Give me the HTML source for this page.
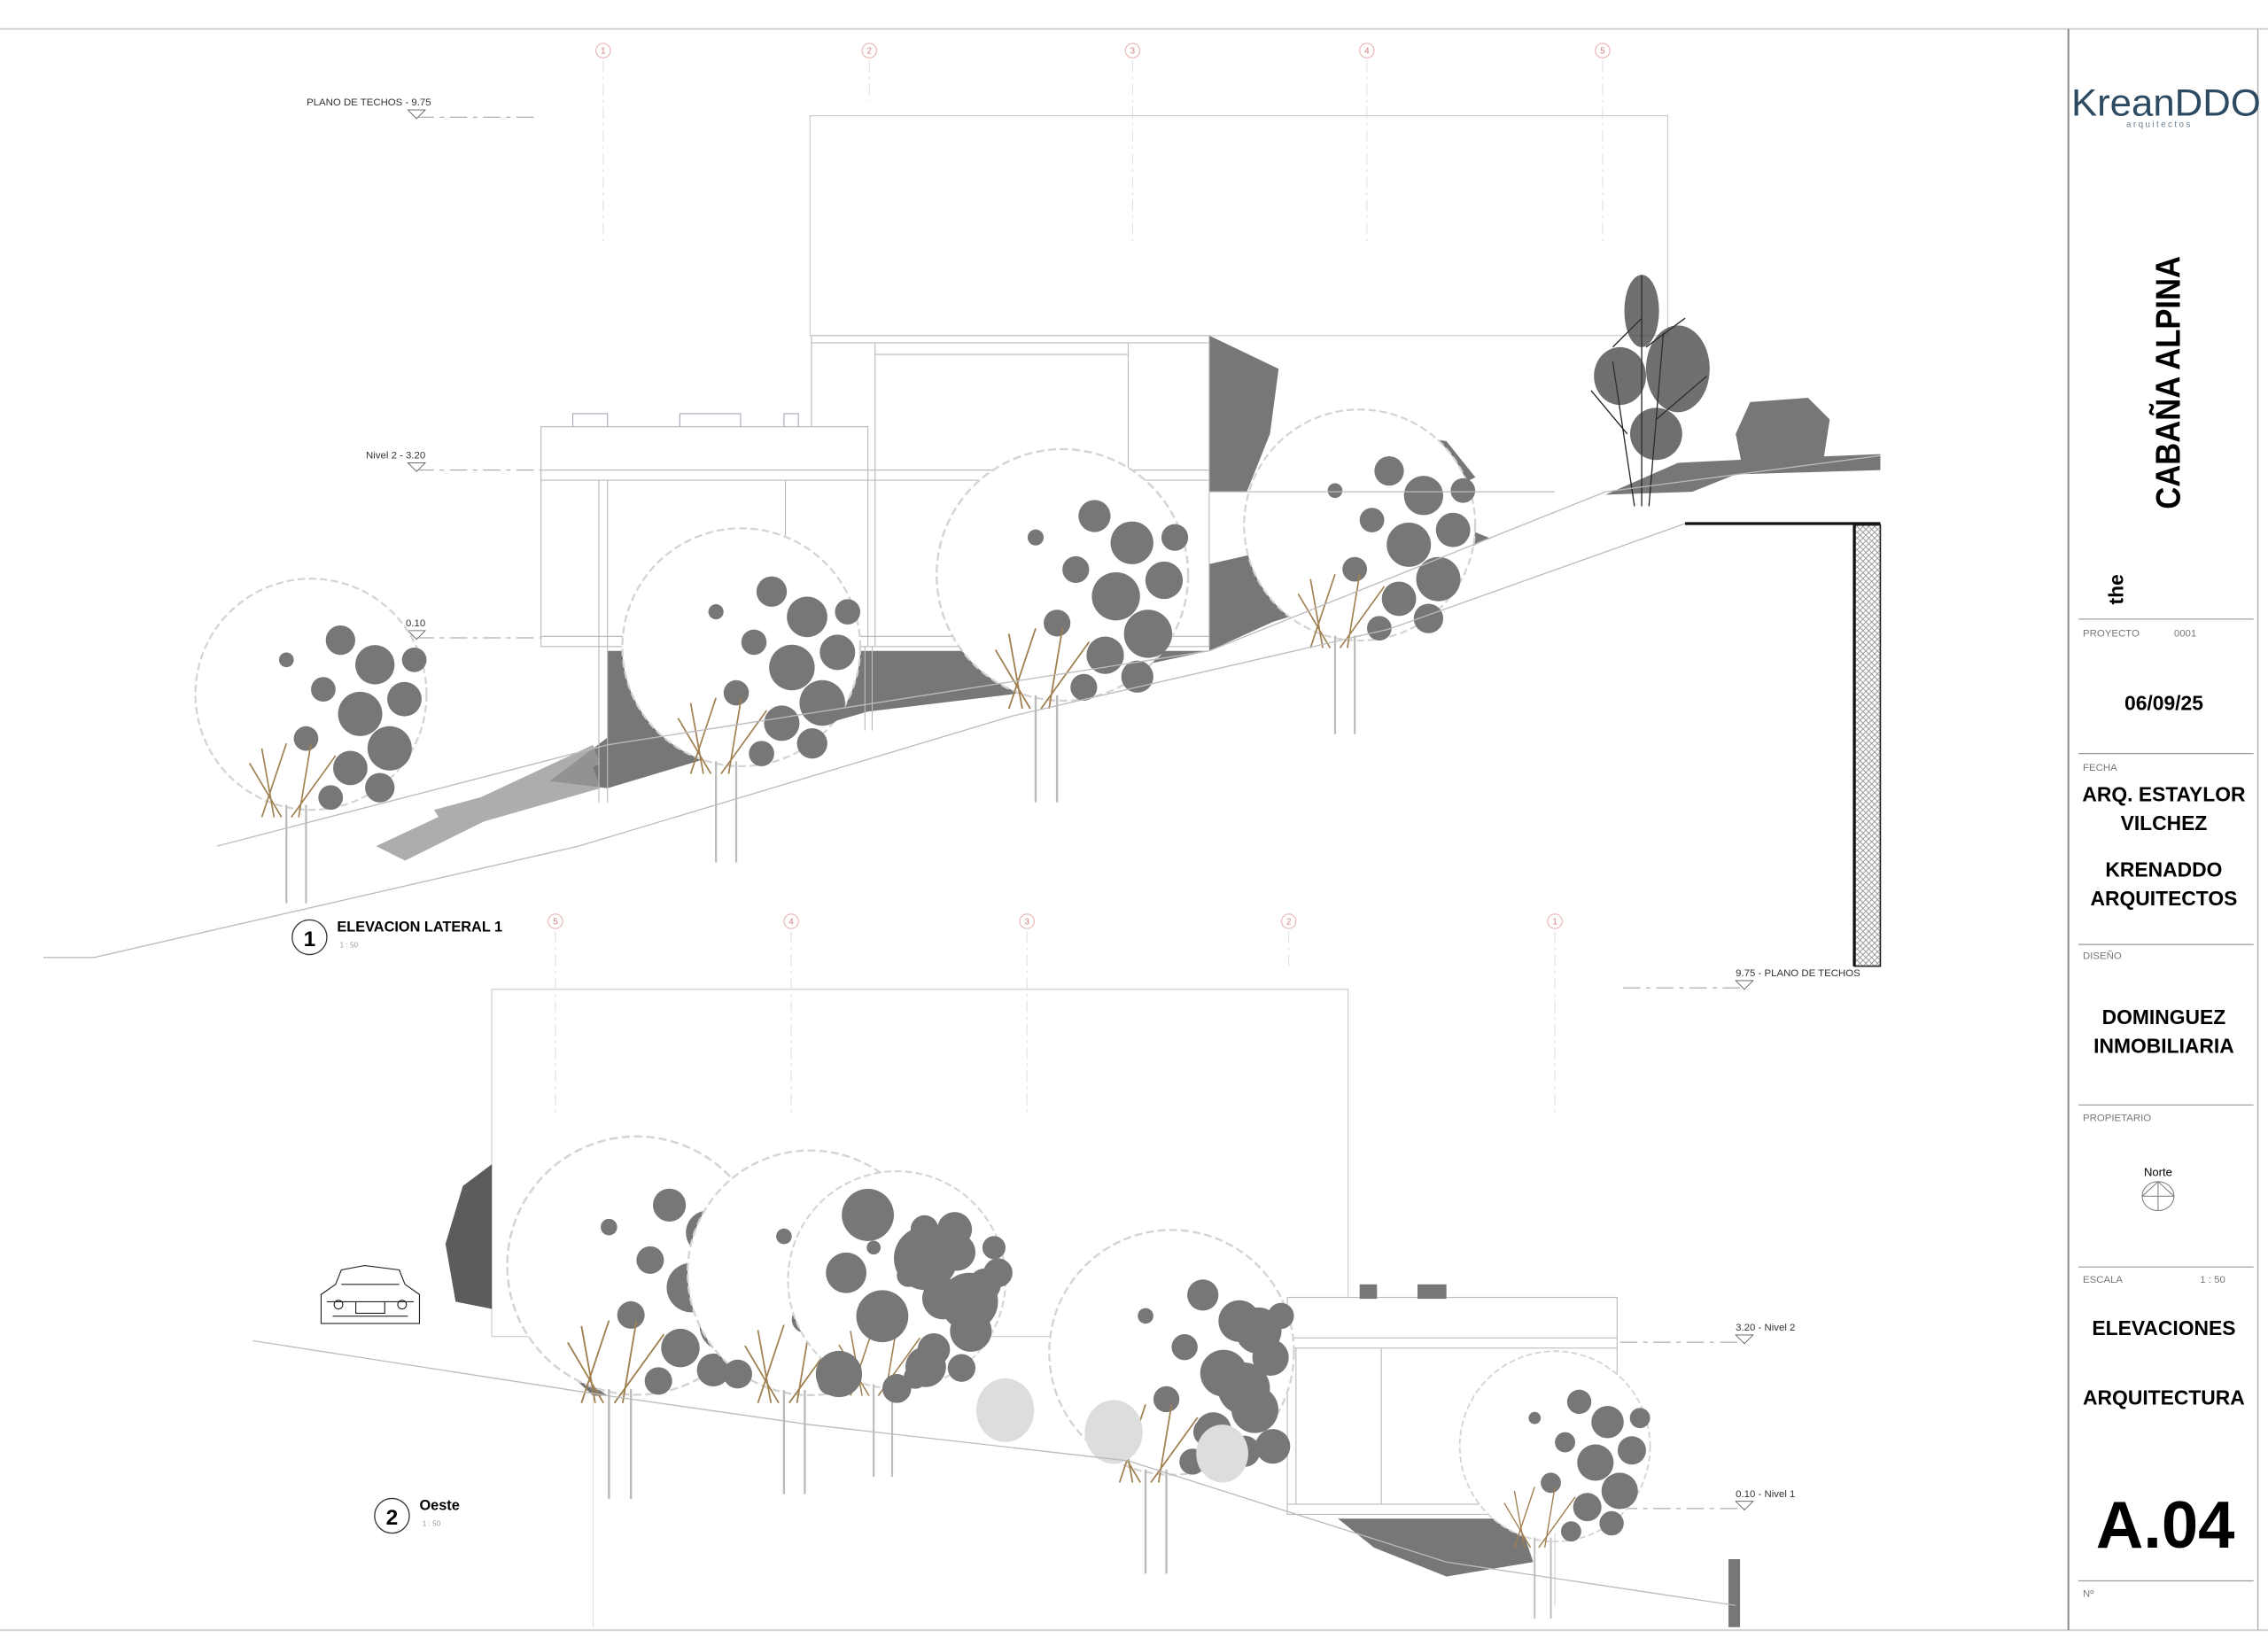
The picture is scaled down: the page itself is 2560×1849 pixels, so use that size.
<!DOCTYPE html>
<html><head><meta charset="utf-8"><style>
html,body{margin:0;padding:0;background:#fff;}
svg{display:block;}
text{font-family:"Liberation Sans",sans-serif;}
</style></head><body>
<svg width="2560" height="1849" viewBox="0 0 1568 1132.5" xmlns="http://www.w3.org/2000/svg">
<defs>
<g id="tr">
  <circle cx="50" cy="50" r="47" fill="#fff" stroke="#d4d4d4" stroke-width="0.8" stroke-dasharray="3 1.5"/>
  <g fill="#777">
    <circle cx="62" cy="28" r="6"/><circle cx="76" cy="38" r="8"/><circle cx="88" cy="52" r="7"/>
    <circle cx="70" cy="58" r="9"/><circle cx="55" cy="48" r="5"/><circle cx="82" cy="72" r="9"/>
    <circle cx="66" cy="80" r="7"/><circle cx="48" cy="68" r="5"/><circle cx="92" cy="36" r="5"/>
    <circle cx="58" cy="92" r="5"/><circle cx="78" cy="88" r="6"/><circle cx="40" cy="36" r="3"/>
  </g>
  <g stroke="#a08050" stroke-width="0.6"><path d="M30 100 L40 70 M35 100 L30 72 M45 100 L50 70 M42 100 L60 75 M38 100 L25 78"/></g>
  <path d="M40 95 V135 M48 95 V135" stroke="#bbb" stroke-width="0.8"/>
</g>
<pattern id="hat" width="4" height="4" patternUnits="userSpaceOnUse"><path d="M0 4 L4 0 M0 0 L4 4" stroke="#888" stroke-width="0.5"/></pattern>
</defs>

<line x1="0" y1="20" x2="1568" y2="20" stroke="#ccc" stroke-width="1"/>
<line x1="0" y1="1127" x2="1568" y2="1127" stroke="#ccc" stroke-width="1"/>
<line x1="1430" y1="20" x2="1430" y2="1127" stroke="#888" stroke-width="1.2"/>
<line x1="1561" y1="20" x2="1561" y2="1127" stroke="#aaa" stroke-width="0.8"/>

<text x="1432" y="80" font-size="26" fill="#2d4a63" textLength="131" lengthAdjust="spacingAndGlyphs">KreanDDO</text>
<text x="1470" y="88" font-size="6" fill="#6b7f90" letter-spacing="1.5">arquitectos</text>
<text font-weight="bold" transform="translate(1507,352) rotate(-90)" font-size="24" textLength="175" lengthAdjust="spacingAndGlyphs">CABAÑA ALPINA</text>
<text font-weight="bold" transform="translate(1468,418) rotate(-90)" font-size="14">the</text>
<g stroke="#999" stroke-width="0.7">
<line x1="1437" y1="428" x2="1558" y2="428"/><line x1="1437" y1="521" x2="1558" y2="521"/>
<line x1="1437" y1="653" x2="1558" y2="653"/><line x1="1437" y1="764" x2="1558" y2="764"/>
<line x1="1437" y1="876" x2="1558" y2="876"/><line x1="1437" y1="1093" x2="1558" y2="1093"/>
</g>
<g font-size="7" fill="#777">
<text x="1440" y="440">PROYECTO</text><text x="1503" y="440">0001</text>
<text x="1440" y="533">FECHA</text><text x="1440" y="663">DISEÑO</text>
<text x="1440" y="775">PROPIETARIO</text><text x="1440" y="887">ESCALA</text><text x="1521" y="887">1 : 50</text>
<text x="1440" y="1104">Nº</text>
</g>
<g font-size="14" text-anchor="middle" font-weight="bold">
<text x="1496" y="491">06/09/25</text>
<text x="1496" y="554">ARQ. ESTAYLOR</text>
<text x="1496" y="574">VILCHEZ</text>
<text x="1496" y="606">KRENADDO</text>
<text x="1496" y="626">ARQUITECTOS</text>
<text x="1496" y="708">DOMINGUEZ</text>
<text x="1496" y="728">INMOBILIARIA</text>
<text x="1496" y="923">ELEVACIONES</text>
<text x="1496" y="971">ARQUITECTURA</text>
<text x="1497" y="1070" font-size="46" textLength="96" lengthAdjust="spacingAndGlyphs">A.04</text>
</g>
<text x="1492" y="813" font-size="8" text-anchor="middle">Norte</text>
<ellipse cx="1492" cy="827" rx="11" ry="10" fill="none" stroke="#777" stroke-width="0.6"/>
<path d="M1481 827 H1503 M1492 817 V837 M1481 827 L1492 817 L1503 827" fill="none" stroke="#777" stroke-width="0.6"/>

<!-- ELEVATION 1 -->
<g fill="none" stroke="#e8b4b4" stroke-width="0.7">
<circle cx="417" cy="35" r="5"/><circle cx="601" cy="35" r="5"/><circle cx="783" cy="35" r="5"/><circle cx="945" cy="35" r="5"/><circle cx="1108" cy="35" r="5"/>
</g>
<g font-size="6" fill="#d08080" text-anchor="middle">
<text x="417" y="37">1</text><text x="601" y="37">2</text><text x="783" y="37">3</text><text x="945" y="37">4</text><text x="1108" y="37">5</text>
</g>
<g stroke="#ddd" stroke-width="0.6" stroke-dasharray="8 3 2 3">
<line x1="417" y1="42" x2="417" y2="170"/><line x1="601" y1="42" x2="601" y2="70"/><line x1="783" y1="42" x2="783" y2="170"/><line x1="945" y1="42" x2="945" y2="170"/><line x1="1108" y1="42" x2="1108" y2="170"/>
</g>
<rect x="560" y="80" width="593" height="152" fill="none" stroke="#ccc" stroke-width="0.7"/>
<g font-size="7" fill="#333">
<text x="212" y="73">PLANO DE TECHOS - 9.75</text>
<text x="253" y="317">Nivel 2 - 3.20</text>
<text x="253" y="433">Nivel 1 - 0.10</text>
</g>
<g fill="none" stroke="#555" stroke-width="0.5">
<path d="M282 76 L294 76 L288 82 Z"/><path d="M282 320 L294 320 L288 326 Z"/><path d="M282 436 L294 436 L288 442 Z"/>
</g>
<g stroke="#999" stroke-width="0.6" stroke-dasharray="12 4 3 4">
<line x1="288" y1="81" x2="372" y2="81"/><line x1="288" y1="325" x2="374" y2="325"/><line x1="288" y1="441" x2="374" y2="441"/>
</g>
<g fill="#777">
<polygon points="836,232 884,255 878,300 862,340 836,340"/>
<polygon points="836,390 880,380 1000,360 1030,372 960,405 880,430 836,450"/>
<polygon points="420,450 836,450 780,462 700,480 600,492 520,515 420,545 380,540 420,510"/>
<polygon points="880,360 940,330 1000,340 1020,330 1000,305 970,300 950,315 920,320"/>
<polygon points="1110,342 1160,320 1200,318 1300,314 1300,325 1200,328 1170,340"/>
<polygon points="1210,278 1250,275 1265,290 1260,322 1205,325 1200,300"/>
</g>
<g fill="#999" opacity="0.8">
<polygon points="260,585 410,515 415,528 280,595"/>
<polygon points="300,560 410,530 415,545 310,575"/>
</g>
<g fill="#fff" stroke="#bbb" stroke-width="0.7">
<rect x="561" y="232" width="275" height="215"/>
<rect x="374" y="295" width="226" height="152"/>
<line x1="561" y1="237" x2="836" y2="237"/><line x1="605" y1="237" x2="605" y2="447"/><line x1="605" y1="245" x2="780" y2="245"/>
<line x1="780" y1="237" x2="780" y2="447"/><line x1="374" y1="325" x2="836" y2="325"/><line x1="374" y1="332" x2="836" y2="332"/>
<line x1="414" y1="332" x2="414" y2="555"/><line x1="420" y1="332" x2="420" y2="555"/><line x1="543" y1="332" x2="543" y2="447"/>
<line x1="374" y1="440" x2="836" y2="440"/><line x1="598" y1="447" x2="598" y2="505"/><line x1="603" y1="447" x2="603" y2="505"/>
</g>
<path d="M396 295 V286 H420 V295 M470 295 V286 H512 V295 M542 295 V286 H552 V295" fill="none" stroke="#aab" stroke-width="0.7"/>
<use href="#tr" transform="translate(130,395) scale(1.7)"/>
<use href="#tr" transform="translate(425,360) scale(1.75)"/>
<use href="#tr" transform="translate(642,305) scale(1.85)"/>
<use href="#tr" transform="translate(855,278) scale(1.7)"/>
<g stroke="#222" stroke-width="0.8" fill="none">
<path d="M1135 350 V190 M1140 350 L1150 230 M1130 350 L1115 250 M1125 300 L1100 270 M1145 290 L1180 260 M1135 220 L1115 240 M1138 240 L1165 220"/>
</g>
<g fill="#333" opacity="0.7">
<ellipse cx="1135" cy="215" rx="12" ry="25"/><ellipse cx="1120" cy="260" rx="18" ry="20"/><ellipse cx="1160" cy="255" rx="22" ry="30"/><ellipse cx="1145" cy="300" rx="18" ry="18"/>
</g>
<g fill="none" stroke="#bbb" stroke-width="0.8">
<polyline points="30,662 65,662 400,585 700,495 960,435 1165,362 1300,362"/>
<polyline points="150,585 420,515 836,450 1030,372 1110,340 1300,315"/>
<line x1="836" y1="340" x2="1075" y2="340"/>
</g>
<line x1="1165" y1="362" x2="1300" y2="362" stroke="#111" stroke-width="2"/>
<rect x="1282" y="363" width="18" height="305" fill="url(#hat)" stroke="#222" stroke-width="1"/>
<line x1="1282" y1="363" x2="1282" y2="668" stroke="#111" stroke-width="2"/>
<circle cx="214" cy="648" r="12" fill="none" stroke="#333" stroke-width="0.8"/>
<text x="214" y="654" font-size="15" font-weight="bold" text-anchor="middle">1</text>
<text x="233" y="644" font-size="10" font-weight="bold">ELEVACION LATERAL 1</text>
<text x="235" y="655" font-size="5" fill="#999">1 : 50</text>

<!-- ELEVATION 2 -->
<g fill="none" stroke="#e8b4b4" stroke-width="0.7">
<circle cx="384" cy="637" r="5"/><circle cx="547" cy="637" r="5"/><circle cx="710" cy="637" r="5"/><circle cx="891" cy="637" r="5"/><circle cx="1075" cy="637" r="5"/>
</g>
<g font-size="6" fill="#d08080" text-anchor="middle">
<text x="384" y="639">5</text><text x="547" y="639">4</text><text x="710" y="639">3</text><text x="891" y="639">2</text><text x="1075" y="639">1</text>
</g>
<g stroke="#ddd" stroke-width="0.6" stroke-dasharray="8 3 2 3">
<line x1="384" y1="644" x2="384" y2="770"/><line x1="547" y1="644" x2="547" y2="770"/><line x1="710" y1="644" x2="710" y2="770"/><line x1="891" y1="644" x2="891" y2="670"/><line x1="1075" y1="644" x2="1075" y2="770"/>
</g>
<rect x="340" y="684" width="592" height="240" fill="none" stroke="#ccc" stroke-width="0.7"/>
<g font-size="7" fill="#333">
<text x="1200" y="675">9.75 - PLANO DE TECHOS</text>
<text x="1200" y="920">3.20 - Nivel 2</text>
<text x="1200" y="1035">0.10 - Nivel 1</text>
</g>
<g fill="none" stroke="#555" stroke-width="0.5">
<path d="M1200 678 L1212 678 L1206 684 Z"/><path d="M1200 923 L1212 923 L1206 929 Z"/><path d="M1200 1038 L1212 1038 L1206 1044 Z"/>
</g>
<g stroke="#999" stroke-width="0.6" stroke-dasharray="12 4 3 4">
<line x1="1122" y1="683" x2="1206" y2="683"/><line x1="1120" y1="928" x2="1206" y2="928"/><line x1="1120" y1="1043" x2="1206" y2="1043"/>
</g>
<g fill="#fff" stroke="#bbb" stroke-width="0.7">
<rect x="890" y="897" width="228" height="150"/>
<line x1="890" y1="925" x2="1118" y2="925"/><line x1="890" y1="932" x2="1118" y2="932"/><line x1="896" y1="932" x2="896" y2="1040"/>
<line x1="890" y1="1040" x2="1118" y2="1040"/><line x1="955" y1="932" x2="955" y2="1040"/>
<line x1="400" y1="940" x2="660" y2="940"/>
</g>
<g fill="#777">
<rect x="940" y="888" width="12" height="10"/><rect x="980" y="888" width="20" height="10"/>
<polygon points="372,930 420,965 410,965"/>
<polygon points="925,1050 1050,1050 1060,1080 1000,1090 950,1070"/>
<polygon points="1195,1078 1203,1078 1203,1125 1195,1125"/>
</g>
<use href="#tr" transform="translate(345,780) scale(1.9)"/>
<use href="#tr" transform="translate(470,790) scale(1.8)"/>
<use href="#tr" transform="translate(540,805) scale(1.6)"/>
<use href="#tr" transform="translate(720,845) scale(1.8)"/>
<use href="#tr" transform="translate(1005,930) scale(1.4)"/>
<g fill="#777">
<circle cx="600" cy="840" r="18"/><circle cx="640" cy="870" r="22"/><circle cx="670" cy="900" r="20"/><circle cx="610" cy="910" r="18"/>
<circle cx="580" cy="950" r="16"/><circle cx="640" cy="945" r="14"/><circle cx="510" cy="950" r="10"/><circle cx="660" cy="850" r="12"/>
<circle cx="585" cy="880" r="14"/><circle cx="690" cy="880" r="10"/><circle cx="620" cy="960" r="10"/>
<circle cx="870" cy="920" r="16"/><circle cx="860" cy="960" r="18"/><circle cx="880" cy="1000" r="12"/><circle cx="835" cy="990" r="10"/>
</g>
<g fill="#ddd"><ellipse cx="695" cy="975" rx="20" ry="22"/><ellipse cx="770" cy="990" rx="20" ry="22"/><ellipse cx="845" cy="1005" rx="18" ry="20"/></g>
<path d="M340 805 L320 820 L308 860 L315 900 L340 905 Z" fill="#333" opacity="0.8"/>
<g fill="none" stroke="#222" stroke-width="0.7">
<path d="M222 915 V895 L232 888 L236 878 L252 875 L276 878 L280 888 L290 895 V915 Z"/>
<path d="M236 888 H276 M226 900 H286 M246 900 V908 H266 V900 M230 910 H282"/>
<circle cx="234" cy="902" r="3"/><circle cx="278" cy="902" r="3"/>
</g>
<polyline points="175,927 420,965 560,985 780,1010 1000,1080 1200,1110" fill="none" stroke="#bbb" stroke-width="0.8"/>
<line x1="410" y1="965" x2="410" y2="1125" stroke="#ddd" stroke-width="0.6"/>
<line x1="1075" y1="1060" x2="1075" y2="1110" stroke="#ccc" stroke-width="0.6"/>
<circle cx="271" cy="1048" r="12" fill="none" stroke="#333" stroke-width="0.8"/>
<text x="271" y="1054" font-size="15" font-weight="bold" text-anchor="middle">2</text>
<text x="290" y="1044" font-size="10" font-weight="bold">Oeste</text>
<text x="292" y="1055" font-size="5" fill="#999">1 : 50</text>
</svg>
</body></html>
